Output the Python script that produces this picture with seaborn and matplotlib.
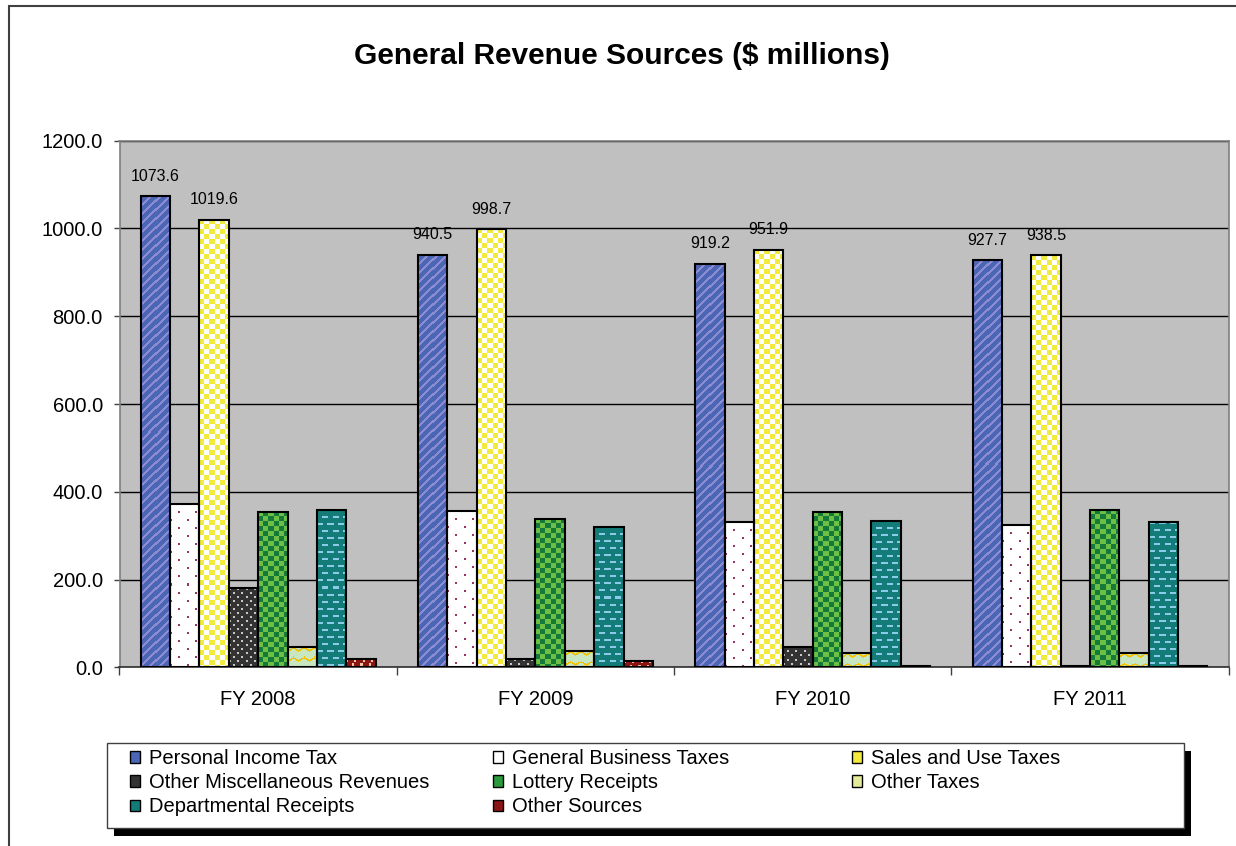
import numpy as np
import pandas as pd
import matplotlib.pyplot as plt
import seaborn as sns
from matplotlib.colors import to_rgb
from matplotlib.patches import Patch, Rectangle
from matplotlib.ticker import FormatStrFormatter

years = ["FY 2008", "FY 2009", "FY 2010", "FY 2011"]
sources = ["Personal Income Tax", "General Business Taxes", "Sales and Use Taxes",
           "Other Miscellaneous Revenues", "Lottery Receipts", "Other Taxes",
           "Departmental Receipts", "Other Sources"]

personal_income = [1073.6, 940.5, 919.2, 927.7]
general_business = [372.0, 357.0, 332.0, 324.0]
sales_use = [1019.6, 998.7, 951.9, 938.5]
other_misc = [180.0, 18.0, 46.0, 4.0]
lottery = [354.0, 338.0, 354.0, 358.0]
other_taxes = [46.0, 37.0, 32.0, 32.0]
departmental = [358.0, 320.0, 334.0, 330.0]
other_sources = [18.0, 14.0, 4.0, 4.0]

series = [personal_income, general_business, sales_use, other_misc,
          lottery, other_taxes, departmental, other_sources]

# excel-like fill patterns: base colour, pattern colour, pattern kind
base_colors = ["#4a66b5", "#ffffff", "#ffffff", "#333333", "#137a3a", "#c8e6c0", "#137c78", "#8b1414"]
pattern_colors = ["#8c8cd2", "#993366", "#f2ea3c", "#c8c8c8", "#6dbf45", "#f2c200", "#8ccbe8", "#f0c8a0"]
patterns = ["stripes", "dots", "check", "fine_dots", "check", "zigzag", "dashes", "weave"]
legend_colors = ["#4a66b5", "#ffffff", "#f2ea3c", "#333333", "#2a9a3a", "#e4ea9a", "#137c78", "#8b1414"]

df = pd.DataFrame({
    "year": np.tile(years, len(sources)),
    "source": np.repeat(sources, len(years)),
    "value": np.concatenate(series),
})


def pattern_mask(kind, rows, cols):
    yy, xx = np.mgrid[0:rows, 0:cols]
    if kind == "stripes":
        return (xx + yy) % 9 < 3
    if kind == "dots":
        return (((xx % 16) < 2) & ((yy % 16) < 2)) | ((((xx + 8) % 16) < 2) & (((yy + 8) % 16) < 2))
    if kind == "check":
        return (xx // 5 + yy // 5) % 2 == 0
    if kind == "fine_dots":
        return (((xx % 8) < 2) & ((yy % 8) < 2)) | ((((xx + 4) % 8) < 2) & (((yy + 4) % 8) < 2))
    if kind == "zigzag":
        wave = np.abs(xx % 10 - 5) * 0.6
        return np.abs(yy % 9 - 1.5 - wave) < 0.9
    if kind == "dashes":
        shift = 5 * ((yy // 7) % 2)
        return ((yy % 7) < 2) & (((xx + shift) % 10) < 6)
    return (((xx + 2 * (yy // 4)) % 8) < 2) & ((yy % 4) < 3)


sns.set_style("white")
plt.rcParams["font.family"] = ["Liberation Sans", "DejaVu Sans"]
plt.rcParams["text.color"] = "black"
plt.rcParams["xtick.color"] = "black"
plt.rcParams["ytick.color"] = "black"

W, H = 1236, 846
fig = plt.figure(figsize=(W / 100, H / 100), dpi=100)
ax = fig.add_axes([119.5 / W, 1 - 667.3 / H, 1109.2 / W, 526.6 / H])

sns.barplot(data=df, x="year", y="value", hue="source", hue_order=sources,
            palette=base_colors, saturation=1, width=0.847, gap=0,
            errorbar=None, legend=False, linewidth=0, ax=ax)

ax.set_xlim(-0.5, 3.5)
ax.set_ylim(0, 1200)
ax.set_facecolor("#c0c0c0")

# fill every bar with its pattern, then a black outline on top
for container, base, patc, kind in zip(ax.containers, base_colors, pattern_colors, patterns):
    for bar in container:
        x0, y0 = bar.get_x(), bar.get_y()
        w, h = bar.get_width(), bar.get_height()
        bb = bar.get_window_extent()
        cols = max(int(round(bb.width)), 1)
        rows = max(int(round(bb.height)), 1)
        mask = pattern_mask(kind, rows, cols)
        img = np.where(mask[..., None], to_rgb(patc), to_rgb(base))
        ax.imshow(img, extent=(x0, x0 + w, y0, y0 + h), aspect="auto",
                  interpolation="nearest", zorder=2)
        ax.add_patch(Rectangle((x0, y0), w, h, fill=False, ec="black", lw=1.5, zorder=3))

ax.set_xlim(-0.5, 3.5)
ax.set_ylim(0, 1200)

ax.bar_label(ax.containers[0], labels=[f"{v:.1f}" for v in personal_income],
             padding=9, fontsize=11.5, color="black")
ax.bar_label(ax.containers[2], labels=[f"{v:.1f}" for v in sales_use],
             padding=9, fontsize=11.5, color="black")

ax.set_axisbelow(True)
ax.yaxis.grid(True, color="black", lw=1)
ax.xaxis.grid(False)
ax.set_yticks(np.arange(0, 1201, 200))
ax.yaxis.set_major_formatter(FormatStrFormatter("%.1f"))
ax.set_xticks([-0.5, 0.5, 1.5, 2.5, 3.5], minor=True)
ax.tick_params(axis="y", left=True, length=4, width=1, color="#404040", pad=8,
               labelsize=14.5, labelcolor="black")
ax.tick_params(axis="x", which="major", length=0, pad=16, labelsize=14.5, labelcolor="black")
ax.tick_params(axis="x", which="minor", bottom=True, length=6, width=1, color="#404040")
ax.set_xlabel("")
ax.set_ylabel("")
for side in ["left", "right", "top"]:
    ax.spines[side].set_color("#808080")
    ax.spines[side].set_linewidth(1.2)
ax.spines["bottom"].set_color("#303030")
ax.spines["bottom"].set_linewidth(1.2)

fig.text(0.503, 1 - 56 / H, "General Revenue Sources ($ millions)",
         ha="center", va="center", fontsize=21.5, fontweight="bold", color="black")

# chart area border
fig.add_artist(Rectangle((8.5 / W, -0.1), 1.2, 1.1 - 6 / H, transform=fig.transFigure,
                         fill=False, ec="#404040", lw=1.5))

# legend box with a hard shadow
fig.add_artist(Rectangle((114 / W, 1 - 836 / H), 1077 / W, 85 / H, transform=fig.transFigure,
                         fc="black", ec="black", lw=0, zorder=3))
fig.add_artist(Rectangle((107 / W, 1 - 828 / H), 1077 / W, 85 / H, transform=fig.transFigure,
                         fc="white", ec="#404040", lw=1, zorder=4))

handles = [Patch(facecolor=c, edgecolor="black", linewidth=1) for c in legend_colors]
columns = [[0, 3, 6], [1, 4, 7], [2, 5]]
col_x = [129.5, 493, 852]
for idx, x in zip(columns, col_x):
    lg = fig.legend(handles=[handles[i] for i in idx], labels=[sources[i] for i in idx],
                    loc="upper left", bbox_to_anchor=(x / W, 1 - 749 / H),
                    bbox_transform=fig.transFigure, frameon=False, fontsize=14.5,
                    labelcolor="black", handlelength=0.5, handleheight=0.5,
                    handletextpad=0.45, labelspacing=0.26, borderpad=0, borderaxespad=0)
    lg.set_zorder(5)

fig.savefig("out.png", dpi=100)
